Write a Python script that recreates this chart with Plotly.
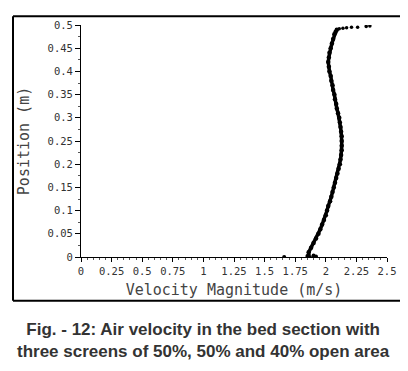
import plotly.graph_objects as go

# Main velocity profile (velocity m/s, position m)
profile_pos = [0.01, 0.02, 0.03, 0.04, 0.05, 0.06, 0.07, 0.08, 0.09, 0.10,
               0.11, 0.12, 0.13, 0.14, 0.15, 0.16, 0.17, 0.18, 0.19, 0.20,
               0.21, 0.22, 0.23, 0.24, 0.25, 0.26, 0.27, 0.28, 0.29, 0.30,
               0.31, 0.32, 0.33, 0.34, 0.35, 0.36, 0.37, 0.38, 0.39, 0.40,
               0.41, 0.42, 0.43, 0.44, 0.45, 0.46, 0.47, 0.48, 0.485, 0.49]
profile_vel = [1.86, 1.88, 1.90, 1.92, 1.94, 1.955, 1.97, 1.985, 2.00, 2.01,
               2.02, 2.035, 2.045, 2.055, 2.065, 2.075, 2.085, 2.095, 2.105, 2.115,
               2.12, 2.125, 2.13, 2.13, 2.13, 2.13, 2.125, 2.12, 2.115, 2.11,
               2.10, 2.09, 2.085, 2.075, 2.07, 2.06, 2.055, 2.045, 2.04, 2.03,
               2.025, 2.02, 2.025, 2.03, 2.04, 2.05, 2.06, 2.07, 2.08, 2.09]

# Scattered points near the top wall
top_vel = [2.11, 2.14, 2.17, 2.21, 2.26, 2.33, 2.36]
top_pos = [0.492, 0.493, 0.494, 0.495, 0.495, 0.497, 0.498]

# Scattered points near the bottom
bot_vel = [1.66, 1.85, 1.86, 1.87, 1.90, 1.92]
bot_pos = [0.0, 0.002, 0.006, 0.0, 0.003, 0.001]

x_ticks = [0, 0.25, 0.5, 0.75, 1, 1.25, 1.5, 1.75, 2, 2.25, 2.5]
x_ticklabels = ["0", "0.25", "0.5", "0.75", "1", "1.25", "1.5", "1.75", "2", "2.25", "2.5"]
y_ticks = [0, 0.05, 0.1, 0.15, 0.2, 0.25, 0.3, 0.35, 0.4, 0.45, 0.5]
y_ticklabels = ["0", "0.05", "0.1", "0.15", "0.2", "0.25", "0.3", "0.35", "0.4", "0.45", "0.5"]

fig = go.Figure()
fig.add_trace(go.Scatter(x=profile_vel, y=profile_pos, mode="lines+markers",
                         line=dict(color="black", width=3.5),
                         marker=dict(color="black", size=4.5), showlegend=False))
fig.add_trace(go.Scatter(x=top_vel, y=top_pos, mode="markers",
                         marker=dict(color="black", size=3.5), showlegend=False))
fig.add_trace(go.Scatter(x=bot_vel, y=bot_pos, mode="markers",
                         marker=dict(color="black", size=4), showlegend=False))

# page has an 8px body margin; figure coordinates = page coordinates - 8
OFF = 8
W, H = 400, 363
L, R, T, B = 81 - OFF, 21, 19 - OFF, 114
pw, ph = W - L - R, H - T - B

def px_to_paper_x(px):
    return (px - OFF - L) / pw

def px_to_paper_y(py):
    return (H - B - (py - OFF)) / ph

tickfont = dict(family="DejaVu Sans Mono", size=10.5, color="#333")
titlefont = dict(family="DejaVu Sans Mono", size=15, color="#444")

frame_line = dict(color="black", width=2)
x_left, x_right = px_to_paper_x(13), px_to_paper_x(430)
y_top, y_bot = px_to_paper_y(10), px_to_paper_y(302)

fig.update_layout(
    width=W, height=H,
    margin=dict(l=L, r=R, t=T, b=B),
    paper_bgcolor="white", plot_bgcolor="white",
    font=dict(family="DejaVu Sans", color="#333"),
    xaxis=dict(range=[0, 2.5], tickvals=x_ticks, ticktext=x_ticklabels,
               showgrid=False, zeroline=False, showline=True, linecolor="black",
               linewidth=1, ticks="outside", ticklen=4, tickcolor="black",
               tickfont=tickfont,
               minor=dict(dtick=0.05, ticks="outside", ticklen=2, tickcolor="#555"),
               title=dict(text="Velocity Magnitude (m/s)", font=titlefont, standoff=8)),
    yaxis=dict(range=[0, 0.5], tickvals=y_ticks, ticktext=y_ticklabels,
               showgrid=False, zeroline=False, showline=True, linecolor="black",
               linewidth=1, ticks="outside", ticklen=5, tickcolor="black",
               tickfont=tickfont,
               minor=dict(dtick=0.025, ticks="outside", ticklen=2, tickcolor="#555"),
               title=dict(text="Position (m)", font=titlefont, standoff=14)),
    shapes=[
        dict(type="line", xref="paper", yref="paper", x0=x_left, x1=x_right,
             y0=y_top, y1=y_top, line=frame_line),
        dict(type="line", xref="paper", yref="paper", x0=x_left, x1=x_right,
             y0=y_bot, y1=y_bot, line=frame_line),
        dict(type="line", xref="paper", yref="paper", x0=x_left, x1=x_left,
             y0=y_bot, y1=y_top, line=frame_line),
    ],
    annotations=[dict(text="<b>Fig. - 12: Air velocity in the bed section with</b><br>"
                           "<b>three screens of 50%, 50% and 40% open area</b>",
                      xref="paper", yref="paper",
                      x=px_to_paper_x(203), y=px_to_paper_y(343),
                      xanchor="center", yanchor="middle", showarrow=False,
                      align="center",
                      font=dict(family="Liberation Sans", size=17, color="#333"))],
)

fig.write_html("out.html")
